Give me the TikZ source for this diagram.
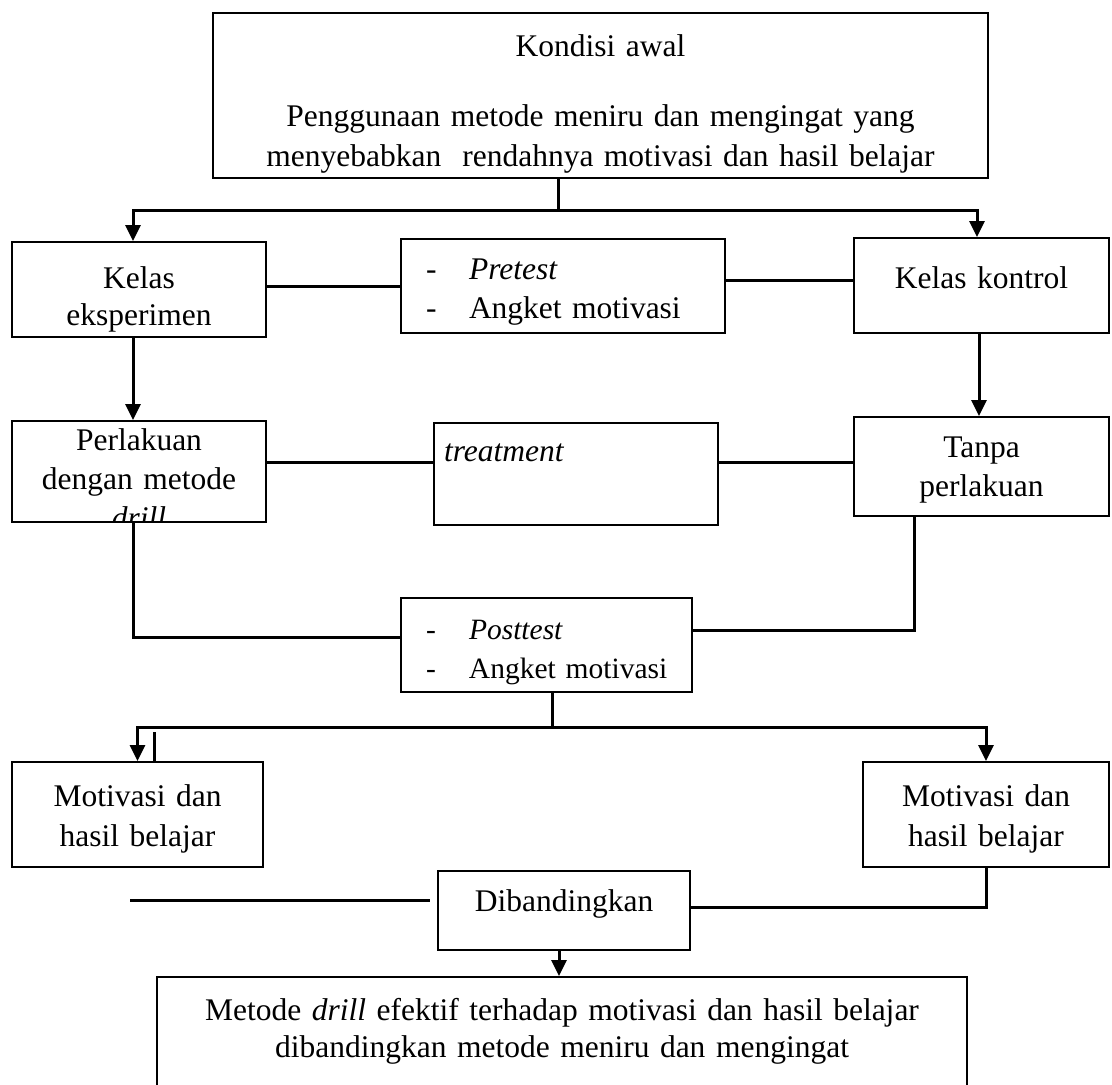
\documentclass[tikz,border=0pt]{standalone}
\usepackage{fontspec}
\setmainfont{Liberation Serif}
\usetikzlibrary{arrows.meta}

\newcommand{\dashitem}[1]{\hspace*{12.5pt}\makebox[21.5pt][l]{-}#1}

\begin{document}
\begin{tikzpicture}[x=0.5pt,y=-0.5pt,
    box/.style={draw,line width=1pt,inner sep=0pt,anchor=north west,align=center,
      font=\fontsize{15.75}{19.5}\selectfont},
    conn/.style={draw,line width=1.5pt},
    arr/.style={conn,-{Triangle[length=8pt,width=7.5pt]}}]

  \useasboundingbox (0,0) rectangle (1112,1084);
  \clip (0,0) rectangle (1112,1084);

  % boxes
  \node[box,text width=387.5pt,text height=21.5pt,text depth=61pt] (awal) at (212,12)
    {Kondisi awal\\[15.5pt]Penggunaan metode meniru dan mengingat yang\\[0.5pt]menyebabkan~ rendahnya motivasi dan hasil belajar};

  \begin{scope}
    \clip (9,239) rectangle (267,337.5);
    \node[box,text width=127pt,text height=23pt,text depth=24.5pt] (ke) at (11,241)
      {Kelas\\[-1pt]eksperimen};
  \end{scope}
  \node[box,align=left,text width=162pt,text height=20pt,text depth=27pt] (pre) at (400,238)
    {\dashitem{\textit{Pretest}}\\\dashitem{Angket motivasi}};
  \node[box,text width=127.5pt,text height=25pt,text depth=22.5pt] (kk) at (853,237)
    {Kelas kontrol};

  \begin{scope}
    \clip (9,418) rectangle (267,522.5);
    \node[box,text width=127pt,text height=14.5pt,text depth=36pt] (pd) at (11,420)
      {Perlakuan\\dengan metode\\\textit{drill}};
  \end{scope}
  \node[box,align=left,text width=142pt,text height=19pt,text depth=32pt] (tr) at (433,422)
    {\hspace*{5pt}\textit{treatment}};
  \node[box,text width=127.5pt,text height=20pt,text depth=29.5pt] (tp) at (853,416)
    {Tanpa\\perlakuan};

  \node[box,align=left,font=\fontsize{14.75}{19.5}\selectfont,
    text width=145.5pt,text height=20.5pt,text depth=26.5pt] (post) at (400,597)
    {\dashitem{\textit{Posttest}}\\\dashitem{Angket motivasi}};

  \node[box,text width=125.5pt,text height=22pt,text depth=30.5pt] (mh1) at (11,761)
    {Motivasi dan\\[0.5pt]hasil belajar};
  \node[box,text width=123pt,text height=22pt,text depth=30.5pt] (mh2) at (862,761)
    {Motivasi dan\\[0.5pt]hasil belajar};

  \node[box,text width=126pt,text height=20pt,text depth=19.5pt] (db) at (437,870)
    {Dibandingkan};
  \node[box,text width=405pt,text height=21.5pt,text depth=38.5pt] (res) at (156,976)
    {Metode \textit{drill} efektif terhadap motivasi dan hasil belajar\\[-1pt]dibandingkan metode meniru dan mengingat};

  % connectors
  \coordinate (j1) at ([xshift=-21.25pt,yshift=-15.5pt]awal.south);
  \draw[conn] ([xshift=-21.25pt]awal.south) -- (j1);
  \draw[arr] (j1) -| ([xshift=-3pt]ke.north);
  \draw[arr] (j1) -| ([xshift=-2.25pt]kk.north);

  \draw[conn] (ke.east |- pre.west) -- (pre.west);
  \draw[conn] ([yshift=3pt]pre.east) -- ([yshift=3pt]pre.east -| kk.west);

  \draw[arr] ([xshift=-3pt]ke.south) -- ([xshift=-3pt]pd.north);
  \draw[arr] ([xshift=-1.25pt]kk.south) -- ([xshift=-1.25pt]tp.north);

  \draw[conn] ([yshift=6pt]tr.west -| pd.east) -- ([yshift=6pt]tr.west);
  \draw[conn] ([yshift=6pt]tr.east) -- ([yshift=6pt]tr.east -| tp.west);

  \draw[conn] ([xshift=-3pt]pd.south) |- ([yshift=4pt]post.west);
  \draw[conn] ([xshift=-33.75pt]tp.south) |- ([yshift=7.5pt]post.east);

  \coordinate (j2) at ([xshift=2.75pt,yshift=-17pt]post.south);
  \draw[conn] ([xshift=2.75pt]post.south) -- (j2);
  \draw[arr] (j2) -| (mh1.north);
  \draw[arr] (j2) -| (mh2.north);
  \draw[conn] ([xshift=8.25pt]mh1.north) -- ++(0,-29);

  \coordinate (lfree) at (130,900);
  \draw[conn,shorten >=3.5pt] (lfree) -- (lfree -| db.west);
  \draw[conn] ([yshift=1.75pt]db.east) -| (mh2.south);
  \draw[arr] ([xshift=-2.5pt]db.south) -- ([xshift=-2.5pt]db.south |- res.north);

\end{tikzpicture}
\end{document}
